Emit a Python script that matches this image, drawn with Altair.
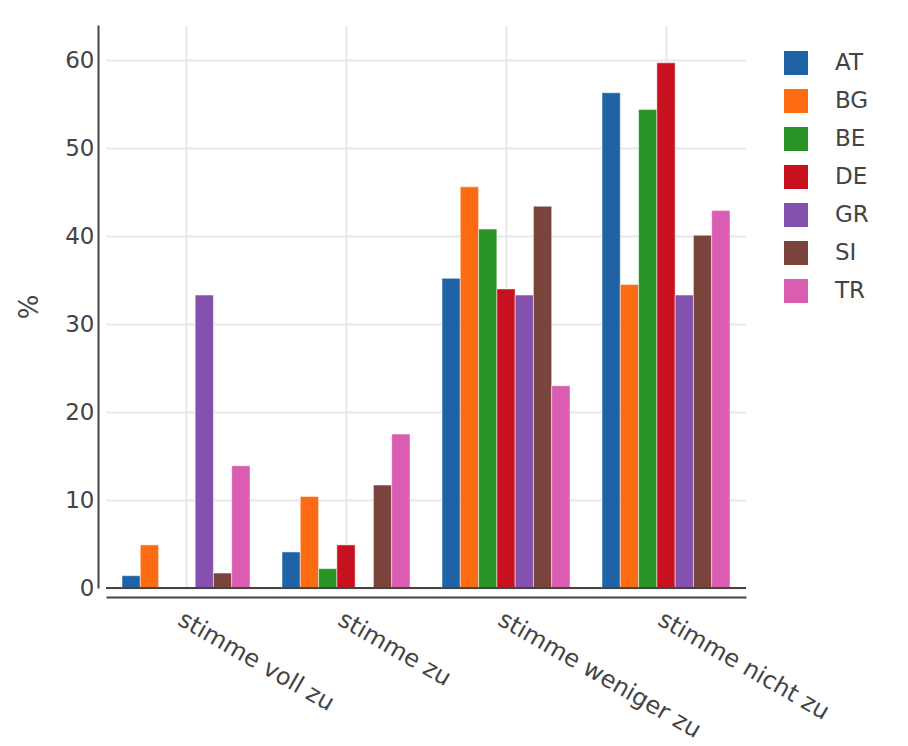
import altair as alt
import pandas as pd

categories = ["stimme voll zu", "stimme zu", "stimme weniger zu", "stimme nicht zu"]
countries = ["AT", "BG", "BE", "DE", "GR", "SI", "TR"]
colors = ["#1f63a6", "#fd6b12", "#2a9325", "#c8111f", "#8350ae", "#79443b", "#da5db2"]

values = {
    "AT": [1.4, 4.1, 35.2, 56.3],
    "BG": [4.9, 10.4, 45.6, 34.5],
    "BE": [0.0, 2.2, 40.8, 54.4],
    "DE": [0.0, 4.9, 34.0, 59.7],
    "GR": [33.3, 0.0, 33.3, 33.3],
    "SI": [1.7, 11.7, 43.4, 40.1],
    "TR": [13.9, 17.5, 23.0, 42.9],
}

rows = []
for c in countries:
    for cat, v in zip(categories, values[c]):
        rows.append({"Antwort": cat, "Land": c, "Wert": v})
df = pd.DataFrame(rows)

FONT = "DejaVu Sans"
TXT = "#444444"
FS = 23

bars = alt.Chart(df).mark_bar(stroke="white", strokeWidth=0.5).encode(
    x=alt.X("Antwort:N", sort=categories, title=None,
            scale=alt.Scale(paddingInner=0.2, paddingOuter=0.1),
            axis=alt.Axis(labelAngle=30, labelAlign="left", labelBaseline="top",
                          grid=True, gridColor="#e8e8e8", gridWidth=2,
                          ticks=False, domain=True, domainColor="#444444", domainWidth=2,
                          offset=9, labelPadding=10, labelFontSize=24, labelColor=TXT,
                          labelFont=FONT, labelLimit=0)),
    xOffset=alt.XOffset("Land:N", sort=countries, scale=alt.Scale(paddingInner=0, paddingOuter=0)),
    y=alt.Y("Wert:Q", title="%", scale=alt.Scale(domain=[0, 64], nice=False),
            axis=alt.Axis(values=[0, 10, 20, 30, 40, 50, 60], grid=True,
                          gridColor="#e8e8e8", gridWidth=2, ticks=False,
                          domain=True, domainColor="#444444", domainWidth=2,
                          offset=8, labelPadding=4, labelFontSize=FS, labelColor=TXT,
                          labelFont=FONT, titleFont=FONT, titleFontSize=26,
                          titleFontWeight="normal", titleColor=TXT, titlePadding=22)),
    color=alt.Color("Land:N", sort=countries,
                    scale=alt.Scale(domain=countries, range=colors),
                    legend=alt.Legend(title=None, orient="none", legendX=678, legendY=26,
                                      symbolType="square", symbolSize=576,
                                      symbolStrokeWidth=0, labelFontSize=FS,
                                      labelFont=FONT, labelColor=TXT, rowPadding=14,
                                      labelOffset=27)),
)

zero = alt.Chart(pd.DataFrame({"y": [0]})).mark_rule(color="#444444", strokeWidth=2).encode(y="y:Q")

chart = alt.layer(bars, zero).properties(
    width=640, height=563,
    padding={"left": 8, "top": 17, "right": 5, "bottom": 5},
).configure_view(stroke=None)

chart.save("out.html", embed_options={"renderer": "svg", "actions": False})
